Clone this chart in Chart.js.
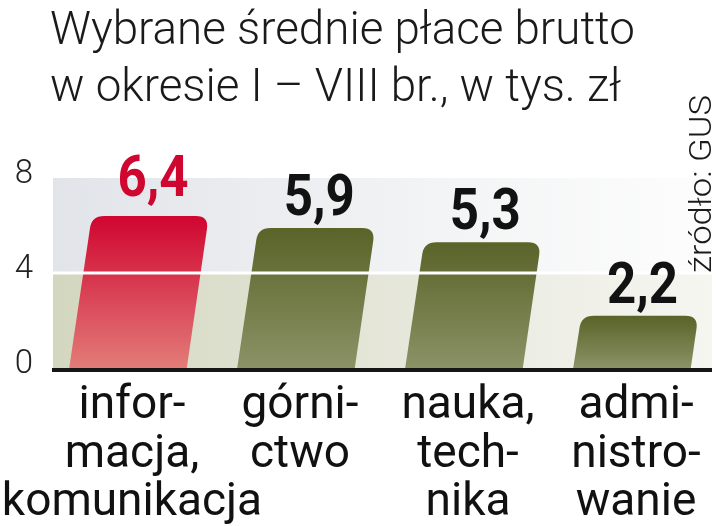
<!DOCTYPE html>
<html>
<head>
<meta charset="utf-8">
<script src="https://cdn.jsdelivr.net/npm/chart.js@4.4.1/dist/chart.umd.min.js"></script>
<style>
html,body{margin:0;padding:0;background:#fff;}
#wrap{width:720px;height:526px;position:relative;}
</style>
</head>
<body>
<div id="wrap"><canvas id="c" width="720" height="526"></canvas></div>
<script>
// ---- data ----
const categories = [
  ['infor-', 'macja,', 'komunikacja'],
  ['górni-', 'ctwo'],
  ['nauka,', 'tech-', 'nika'],
  ['admi-', 'nistro-', 'wanie']
];
const values = [6.4, 5.9, 5.3, 2.2];
const valueLabels = ['6,4', '5,9', '5,3', '2,2'];
const yTicks = [0, 4, 8];
const titleLines = ['Wybrane średnie płace brutto', 'w okresie I – VIII br., w tys. zł'];
const sourceText = 'źródło: GUS';

const SLANT = 0.145;

const customPlugin = {
  id: 'custom',
  beforeDatasetsDraw(chart) {
    const ctx = chart.ctx, y = chart.scales.y;
    const y0 = y.getPixelForValue(0), y4 = y.getPixelForValue(4), y8 = y.getPixelForValue(8);
    const L = 53, R = 712;
    let g = ctx.createLinearGradient(L, 0, R, 0);
    g.addColorStop(0, '#e1e4e9'); g.addColorStop(0.6, '#f3f4f5'); g.addColorStop(1, '#fdfdfd');
    ctx.fillStyle = g; ctx.fillRect(L, y8, R - L, y4 - y8);
    g = ctx.createLinearGradient(L, 0, R, 0);
    g.addColorStop(0, '#d3d7bf'); g.addColorStop(0.6, '#e8e9de'); g.addColorStop(1, '#f6f6f1');
    ctx.fillStyle = g; ctx.fillRect(L, y4, R - L, y0 - y4);
  },
  beforeDatasetDraw(chart, args) {
    const ctx = chart.ctx;
    const meta = args.meta;
    meta.data.forEach((el, i) => {
      const p = el.getProps(['x', 'y', 'base', 'width'], true);
      const h = p.base - p.y, s = h * SLANT, w = p.width, r = 13;
      const bl = p.x - w / 2, br = p.x + w / 2;
      const tl = bl + s, tr = br + s;
      const grad = ctx.createLinearGradient(0, p.y, 0, p.base);
      if (i === 0) { grad.addColorStop(0, '#d00530'); grad.addColorStop(1, '#e27c78'); }
      else { grad.addColorStop(0, '#5a6328'); grad.addColorStop(1, '#8b9266'); }
      ctx.save();
      ctx.beginPath();
      ctx.moveTo(bl, p.base);
      ctx.lineTo(tl - r * SLANT + 0.5, p.y + r);
      ctx.quadraticCurveTo(tl, p.y, tl + r, p.y);
      ctx.lineTo(tr - r, p.y);
      ctx.quadraticCurveTo(tr, p.y, tr - r * SLANT, p.y + r);
      ctx.lineTo(br, p.base);
      ctx.closePath();
      ctx.fillStyle = grad;
      ctx.fill();
      ctx.restore();
    });
    return false;
  },
  afterDatasetsDraw(chart) {
    const ctx = chart.ctx, y = chart.scales.y, x = chart.scales.x;
    const y0 = y.getPixelForValue(0), y4 = y.getPixelForValue(4);
    ctx.save();
    ctx.strokeStyle = '#ffffff'; ctx.lineWidth = 3;
    ctx.beginPath(); ctx.moveTo(53, y4); ctx.lineTo(712, y4); ctx.stroke();
    ctx.strokeStyle = '#161616'; ctx.lineWidth = 4;
    ctx.beginPath(); ctx.moveTo(52, y0 + 2); ctx.lineTo(712, y0 + 2); ctx.stroke();

    // value labels
    const meta = chart.getDatasetMeta(0);
    ctx.textAlign = 'center'; ctx.textBaseline = 'alphabetic';
    meta.data.forEach((el, i) => {
      const p = el.getProps(['x', 'y', 'base'], true);
      const s = (p.base - p.y) * SLANT;
      ctx.save();
      ctx.translate(p.x + s + 3, p.y - (i === 0 ? 20 : 13));
      ctx.scale(0.88, 1);
      ctx.font = '700 58px Roboto';
      ctx.fillStyle = i === 0 ? '#cf0630' : '#121212';
      ctx.fillText(valueLabels[i], 0, 0);
      ctx.restore();
    });

    // category labels
    const baselines = [418, 467, 515];
    categories.forEach((lines, i) => {
      const cx = x.getPixelForValue(i) + 4;
      lines.forEach((ln, j) => {
        ctx.font = '400 46px Roboto';
        ctx.fillStyle = '#111';
        ctx.textAlign = 'center';
        ctx.fillText(ln, cx, baselines[j]);
      });
    });

    // title
    ctx.font = '300 46px Roboto';
    ctx.fillStyle = '#1a1a1a';
    ctx.textAlign = 'left';
    const tw = ctx.measureText(titleLines[0]).width;
    const sc = 585 / tw;
    [44, 101].forEach((b, j) => {
      ctx.save();
      ctx.translate(50, b);
      ctx.scale(sc, 1);
      ctx.fillText(titleLines[j], 0, 0);
      ctx.restore();
    });

    // source
    ctx.save();
    ctx.translate(711, 273);
    ctx.rotate(-Math.PI / 2);
    ctx.font = '300 32px Roboto';
    ctx.fillStyle = '#1a1a1a';
    ctx.textAlign = 'left';
    const sw = ctx.measureText(sourceText).width;
    ctx.scale(178 / sw, 1);
    ctx.fillText(sourceText, 0, 0);
    ctx.restore();
    ctx.restore();
  }
};

new Chart(document.getElementById('c'), {
  type: 'bar',
  data: {
    labels: categories,
    datasets: [{ data: values, backgroundColor: '#5a6328', barPercentage: 0.7, categoryPercentage: 1 }]
  },
  options: {
    responsive: false,
    animation: false,
    layout: { padding: { top: 178, bottom: 158, left: 0, right: 4 } },
    plugins: { legend: { display: false }, tooltip: { enabled: false } },
    scales: {
      x: { display: false },
      y: {
        min: 0, max: 8,
        afterFit(s) { s.width = 44; },
        afterBuildTicks(s) { s.ticks = yTicks.map(v => ({ value: v })); },
        grid: { display: false },
        border: { display: false },
        ticks: { padding: 3, labelOffset: -3, color: '#222', font: { family: 'Roboto', weight: '300', size: 33 } }
      }
    }
  },
  plugins: [customPlugin]
});
</script>
</body>
</html>
